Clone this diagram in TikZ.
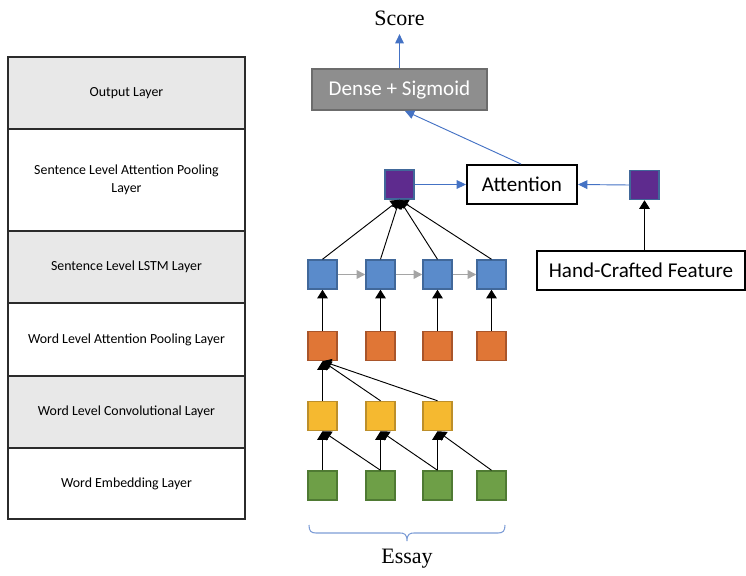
\documentclass[tikz,border=0pt]{standalone}
\usepackage{fontspec}
\setmainfont{Carlito}
\newfontfamily\captionserif{Liberation Serif}
\usetikzlibrary{arrows.meta}

\definecolor{rowgray}{HTML}{E8E8E8}
\definecolor{tableline}{HTML}{2B2B2B}
\definecolor{sqblue}{HTML}{5A8BCB}
\definecolor{sqblueedge}{HTML}{41689A}
\definecolor{sqorange}{HTML}{E07636}
\definecolor{sqorangeedge}{HTML}{A9552A}
\definecolor{sqyellow}{HTML}{F5B930}
\definecolor{sqyellowedge}{HTML}{BD8F2A}
\definecolor{sqgreen}{HTML}{6E9F47}
\definecolor{sqgreenedge}{HTML}{4F7A33}
\definecolor{sqpurple}{HTML}{5E2B8E}
\definecolor{densefill}{HTML}{8E8E8E}
\definecolor{denseedge}{HTML}{6C6C6C}
\definecolor{linkblue}{HTML}{4472C4}
\definecolor{linkgray}{HTML}{BFBFBF}
\definecolor{tipgray}{HTML}{A5A5A5}
\definecolor{linkdark}{HTML}{595959}

\begin{document}
\begin{tikzpicture}[x=0.75pt,y=-0.75pt,
  layerrow/.style={draw=tableline,line width=1.5pt,minimum width=177.75pt,
    align=center,inner sep=0pt,font=\fontsize{10.4}{13.5}\selectfont},
  sq/.style={draw,line width=1.1pt,minimum size=21.75pt,inner sep=0pt},
  textbox/.style={draw=black,line width=1.5pt,inner sep=0pt,
    font=\fontsize{15.8}{18}\selectfont},
  feed/.style={draw=linkdark,line width=0.7pt,
    -{Triangle[length=6.5pt,width=8pt]},black},
  bluelink/.style={draw=linkblue,line width=0.7pt,
    -{Triangle[length=7pt,width=6.5pt]},linkblue},
  recur/.style={draw=linkgray,line width=1pt,
    -{Triangle[length=6.5pt,width=6.5pt]},tipgray},
  caption/.style={font=\captionserif\fontsize{16.5}{18}\selectfont}]

\useasboundingbox (0,0) rectangle (746,575);

% layer table
\node[layerrow,fill=rowgray,minimum height=54pt] (r1) at (126.5,93) {Output Layer};
\node[layerrow,fill=white,minimum height=76.5pt] (r2) at (126.5,180)
  {Sentence Level Attention Pooling\\Layer};
\node[layerrow,fill=rowgray,minimum height=54pt] (r3) at (126.5,267) {Sentence Level LSTM Layer};
\node[layerrow,fill=white,minimum height=54.75pt] (r4) at (126.5,339.5) {Word Level Attention Pooling Layer};
\node[layerrow,fill=rowgray,minimum height=54pt] (r5) at (126.5,412) {Word Level Convolutional Layer};
\node[layerrow,fill=white,minimum height=53.25pt] (r6) at (126.5,483.5) {Word Embedding Layer};

% output part
\node[caption] (score) at (399.5,18) {Score};
\node[draw=denseedge,line width=1.2pt,fill=densefill,text=white,
  minimum width=131.25pt,minimum height=30.75pt,inner sep=0pt,
  font=\fontsize{15.8}{18}\selectfont] (dense) at (399.5,89.5) {Dense + Sigmoid};

\node[textbox,minimum width=82.5pt,minimum height=29.25pt] (att) at (522,184.5) {Attention};
\node[textbox,minimum width=156pt,minimum height=29.25pt] (hand) at (641,270.5) {Hand-Crafted Feature};

\node[sq,draw=sqblueedge,fill=sqpurple] (p1) at (399.5,184.5) {};
\node[sq,draw=sqblueedge,fill=sqpurple] (p2) at (644.5,185) {};

% sentence level LSTM, word pooling and embedding columns
\foreach \i/\x in {1/322.5,2/380.5,3/437.5,4/491.5}{
  \node[sq,draw=sqblueedge,fill=sqblue] (b\i) at (\x,274.5) {};
  \node[sq,draw=sqorangeedge,fill=sqorange] (o\i) at (\x,346) {};
  \node[sq,draw=sqgreenedge,fill=sqgreen] (g\i) at (\x,485.5) {};
}
% convolution outputs
\foreach \i/\x in {1/322.5,2/380.5,3/437.5}{
  \node[sq,draw=sqyellowedge,fill=sqyellow] (y\i) at (\x,416) {};
}

% embeddings to convolution windows
\foreach \i/\j in {1/2,2/3,3/4}{
  \draw[feed] (g\i.north) -- (y\i.south);
  \draw[feed] (g\j.north) -- (y\i.south);
}
% convolution to word attention pooling
\foreach \i in {1,2,3}{
  \draw[feed] (y\i.north) -- (o1.south);
}
% word attention pooling to LSTM
\foreach \i in {1,2,3,4}{
  \draw[feed] (o\i.north) -- (b\i.south);
}
% recurrent links
\draw[recur] (b1.east) -- (b2.west);
\draw[recur] (b2.east) -- (b3.west);
\draw[recur] (b3.east) -- (b4.west);
% sentence attention pooling
\foreach \i in {1,2,3,4}{
  \draw[feed] (b\i.north) -- (p1.south);
}
\draw[feed] (hand.north -| p2) -- (p2.south);

\draw[bluelink] (p1.east) -- (att.west);
\draw[bluelink] (p2.west) -- (att.east);
\draw[bluelink] ([xshift=-0.75pt]att.north) -- ([xshift=4pt]dense.south);
\draw[bluelink] (dense.north) -- ([yshift=-3pt]score.south);

% brace over the essay tokens
\draw[draw=linkblue!70,line width=0.8pt]
  (309,525) .. controls (309,531) and (311,533) .. (316,533) -- (400,533)
  .. controls (404,533) and (407,534) .. (407,541)
  .. controls (407,534) and (410,533) .. (414,533) -- (498,533)
  .. controls (503,533) and (505,531) .. (505,525);
\node[caption] (essay) at (407,559) {Essay};

\end{tikzpicture}
\end{document}
